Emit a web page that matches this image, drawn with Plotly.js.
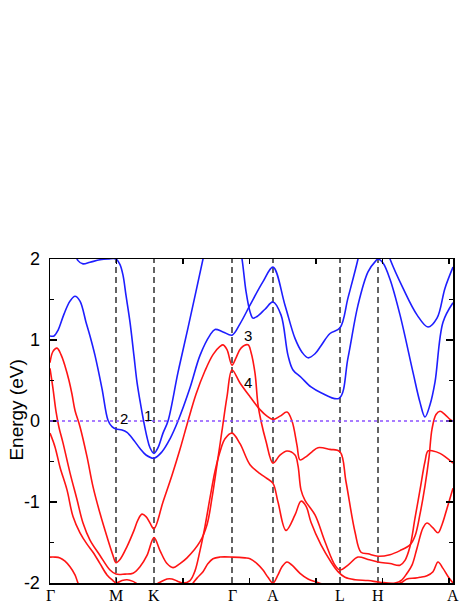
<!DOCTYPE html>
<html>
<head>
<meta charset="utf-8">
<script src="https://cdn.plot.ly/plotly-3.0.1.min.js"></script>
<style>body{margin:0;background:#fff}</style>
</head>
<body>
<div id="bands" style="width:469px;height:607px"></div>
<script>
// high-symmetry path (k in path-length units)
const kPath = [0, 66, 104, 182, 223, 290, 328, 403];
const kLabels = ['Γ', 'M', 'K', 'Γ', 'A', 'L', 'H', 'A'];
const fermiLevel = 0;

// conduction bands (blue)
const cb1K = [0,4,8,14,20,25,30,36,40,45,52,58,62,66,72,77,84,90,96,104,112,120,128,140,150,160,165,173,182,190,200,213,223,235,245,252,258,265,271,280,290,298,308,313];
const cb1E = [1.05,1.05,1.12,1.32,1.48,1.54,1.48,1.22,1.05,0.81,0.4,0.01,-0.07,-0.1,-0.11,-0.14,-0.24,-0.34,-0.42,-0.46,-0.38,-0.22,0.0,0.41,0.81,1.06,1.13,1.1,1.06,1.2,1.43,1.72,1.9,1.43,1.02,0.85,0.78,0.83,0.93,1.08,1.15,1.52,2.0,2.3];
const cb2K = [22,28,33,40,50,58,66,70,73,76,80,84,87,90,93,97,100,104,108,113,118,128,138,146,153,158];
const cb2E = [2.2,1.98,1.94,1.96,1.99,2.0,2.0,1.93,1.8,1.55,1.22,0.8,0.48,0.25,0.04,-0.2,-0.33,-0.4,-0.33,-0.15,0.0,0.6,1.15,1.6,2.0,2.3];
const cb3K = [186,192,196,200,203,207,215,223,231,238,243,251,261,271,289,298,308,318,326,328,333,340,350,363,370,375,380,385,393,403];
const cb3E = [2.4,2.0,1.6,1.35,1.27,1.29,1.38,1.47,1.31,0.81,0.63,0.54,0.42,0.35,0.28,0.78,1.43,1.84,1.98,2.0,1.95,1.75,1.31,0.6,0.23,0.05,0.2,0.48,1.22,1.46];
const cb4K = [332,340,353,367,378,387,395,403];
const cb4E = [2.3,2.0,1.64,1.31,1.16,1.27,1.64,1.9];

// valence bands (red)
const vb1K = [0,3,7,11,15,19,22,25,30,37,43,50,57,63,66,70,77,84,88,92,96,100,104,113,122,130,138,146,155,163,170,173,177,182,186,191,198,201,205,208,211,216,223,230,237,245,248,251,255,265,275,285,290,298,308,318,328,340,350,355,360,365,370,375,378,383,390,396,403];
const vb1E = [0.72,0.86,0.9,0.82,0.68,0.5,0.33,0.13,-0.07,-0.44,-0.81,-1.14,-1.43,-1.66,-1.75,-1.71,-1.55,-1.35,-1.22,-1.15,-1.18,-1.26,-1.33,-1.0,-0.67,-0.35,0.0,0.33,0.62,0.82,0.92,0.94,0.88,0.69,0.78,0.9,0.94,0.85,0.59,0.2,0.0,-0.25,-0.52,-0.42,-0.37,-0.42,-0.55,-0.85,-0.98,-1.16,-1.49,-1.78,-1.84,-1.78,-1.68,-1.71,-1.74,-1.76,-1.78,-1.72,-1.55,-1.2,-0.85,-0.5,-0.37,-0.37,-0.4,-0.45,-0.52];
const vb2K = [0,3,6,9,13,20,27,33,40,50,60,66,75,83,90,97,104,110,117,123,130,137,150,157,162,167,172,177,182,190,200,210,217,223,230,237,242,247,250,255,262,268,280,290,296,305,311,318,328,340,350,360,365,370,375,379,382,386,390,395,400,403];
const vb2E = [0.65,0.4,0.12,-0.08,-0.27,-0.64,-0.97,-1.26,-1.47,-1.66,-1.84,-1.89,-1.89,-1.88,-1.8,-1.66,-1.44,-1.6,-1.76,-1.81,-1.76,-1.69,-1.49,-1.28,-0.95,-0.54,-0.12,0.3,0.63,0.47,0.3,0.14,0.06,0.02,0.06,0.11,0.0,-0.3,-0.48,-0.45,-0.38,-0.33,-0.35,-0.38,-0.75,-1.37,-1.62,-1.64,-1.67,-1.65,-1.6,-1.53,-1.42,-1.15,-0.8,-0.45,-0.1,0.08,0.12,0.08,0.02,0.0];
const vb3K = [0,5,10,17,23,30,37,43,50,57,63,66,72,77,83,90,100,110,117,122,128,133,140,145,150,155,160,165,170,175,182,190,200,210,217,223,228,236,245,251,256,261,271,281,288,295,305,318,330,345,352,357,362,367,373,377,383,388,392,397,403];
const vb3E = [-0.15,-0.32,-0.57,-0.85,-1.18,-1.38,-1.52,-1.62,-1.76,-1.9,-1.97,-2.0,-1.97,-1.96,-1.98,-2.03,-2.05,-1.99,-1.95,-1.95,-1.98,-2.0,-1.97,-1.85,-1.6,-1.3,-0.95,-0.62,-0.38,-0.22,-0.15,-0.28,-0.54,-0.65,-0.71,-0.77,-1.0,-1.35,-1.16,-0.99,-1.05,-1.25,-1.53,-1.74,-1.86,-1.93,-1.96,-1.97,-1.99,-2.0,-1.96,-1.88,-1.78,-1.57,-1.32,-1.26,-1.32,-1.38,-1.28,-1.08,-0.83];
const vb4K = [0,5,10,15,20,25,28,32];
const vb4E = [-1.68,-1.68,-1.69,-1.73,-1.8,-1.9,-2.0,-2.1];
const vb5K = [140,147,153,158,163,170,182,195,200,207,213,218,223,228,232,237,242,250,258,267,275,290,310,330,345,352,357,365,370,377,383,388,393,398,403];
const vb5E = [-2.05,-1.94,-1.86,-1.76,-1.7,-1.68,-1.68,-1.69,-1.7,-1.76,-1.84,-1.93,-2.0,-1.9,-1.8,-1.74,-1.78,-1.88,-1.95,-1.99,-2.02,-2.03,-2.03,-2.03,-2.02,-1.99,-1.95,-1.94,-1.93,-1.91,-1.86,-1.74,-1.82,-1.92,-2.0];

const blue = 'rgb(30,30,255)';
const red = 'rgb(255,20,20)';

function band(k, e, color) {
  return {
    x: k, y: e, type: 'scatter', mode: 'lines',
    line: { color: color, width: 1.6, shape: 'spline', smoothing: 1 },
    hoverinfo: 'skip', showlegend: false
  };
}

const traces = [
  band(vb1K, vb1E, red), band(vb2K, vb2E, red), band(vb3K, vb3E, red),
  band(vb4K, vb4E, red), band(vb5K, vb5E, red),
  band(cb1K, cb1E, blue), band(cb2K, cb2E, blue),
  band(cb3K, cb3E, blue), band(cb4K, cb4E, blue)
];

const shapes = kPath.slice(1, -1).map(k => ({
  type: 'line', xref: 'x', yref: 'paper', x0: k, x1: k, y0: 0, y1: 1,
  layer: 'below',
  line: { color: '#222', width: 1.4, dash: '6px,4px' }
}));
shapes.push({
  type: 'line', xref: 'paper', yref: 'y', x0: 0, x1: 1, y0: fermiLevel, y1: fermiLevel,
  line: { color: 'rgb(140,80,255)', width: 1.4, dash: 'dot' }
});

const sans = 'Liberation Sans, Arial, sans-serif';
const noteFont = { family: sans, size: 15, color: '#000' };
const annotations = [
  { x: 98, y: 0.07, text: '1' },
  { x: 74, y: 0.03, text: '2' },
  { x: 198, y: 1.05, text: '3' },
  { x: 198, y: 0.47, text: '4' }
].map(a => Object.assign(a, { xref: 'x', yref: 'y', showarrow: false, font: noteFont }));

// k-point labels under the axis
kPath.forEach((k, i) => annotations.push({
  x: k, y: 0, xref: 'x', yref: 'paper', yanchor: 'top', yshift: -2,
  text: kLabels[i], showarrow: false,
  font: { family: 'Liberation Serif, Times New Roman, serif', size: 16, color: '#000' }
}));

// axis title
annotations.push({
  x: -0.082, y: 0.535, xref: 'paper', yref: 'paper', xanchor: 'center', yanchor: 'middle',
  textangle: -90, text: 'Energy (eV)', showarrow: false,
  font: { family: sans, size: 19, color: '#000' }
});

const layout = {
  width: 469, height: 607,
  margin: { l: 50, r: 16, t: 259, b: 24 },
  paper_bgcolor: '#fff', plot_bgcolor: '#fff',
  showlegend: false,
  xaxis: {
    range: [0, 403],
    tickmode: 'linear', tick0: 0, dtick: 66.5,
    ticks: 'inside', ticklen: 5, tickwidth: 1.2, tickcolor: '#000',
    showticklabels: false, showgrid: false, zeroline: false,
    showline: true, linecolor: '#000', linewidth: 1.5, mirror: 'ticks'
  },
  yaxis: {
    range: [-2, 2],
    tickmode: 'array', tickvals: [-2, -1, 0, 1, 2], ticktext: ['-2', '-1', '0', '1', '2'],
    ticks: 'inside', ticklen: 7, tickwidth: 1.2, tickcolor: '#000',
    showgrid: false, zeroline: false,
    showline: true, linecolor: '#000', linewidth: 1.5, mirror: 'ticks',
    tickfont: { family: sans, size: 18, color: '#000' },
    ticklabelstandoff: 5,
    minor: { ticks: 'inside', dtick: 0.5, ticklen: 4, tickwidth: 1.2, tickcolor: '#000', showgrid: false }
  },
  shapes: shapes,
  annotations: annotations
};

Plotly.newPlot('bands', traces, layout, { displayModeBar: false, staticPlot: true });
</script>
</body>
</html>
